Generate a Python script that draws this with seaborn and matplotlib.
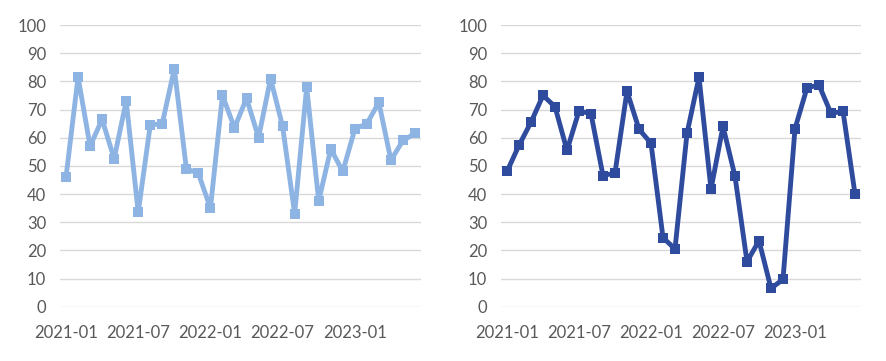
import pandas as pd
import matplotlib
matplotlib.use("Agg")
import matplotlib.pyplot as plt
import seaborn as sns

# monthly categories 2021-01 .. 2023-06
months = [f"{y}-{m:02d}" for y in (2021, 2022, 2023) for m in range(1, 13)][:30]
tick_labels = ["2021-01", "2021-07", "2022-01", "2022-07", "2023-01"]

left_values = [46, 81.5, 57, 66.5, 52.5, 73, 33.5, 64.5, 65, 84.5,
               49, 47.3, 35, 75, 63.5, 74, 60, 81, 64, 33,
               78, 37.5, 56, 48, 63, 65, 72.5, 52, 59, 61.5]
right_values = [48, 57.3, 65.5, 75, 71, 55.5, 69.5, 68.5, 46.5, 47.5,
                76.5, 63, 58, 24.5, 20.5, 61.5, 81.5, 41.7, 64, 46.3,
                16, 23.4, 6.5, 9.7, 63.2, 77.7, 78.7, 68.6, 69.4, 40]

left_color = "#8EB4E3"
right_color = "#2F4B9E"

sns.set_style("white")
plt.rcParams["font.family"] = ["Lato", "DejaVu Sans"]

fig = plt.figure(figsize=(8.86, 3.61), dpi=100)
ax1 = fig.add_axes([60 / 886, 1 - 306.7 / 361, 361 / 886, (306.7 - 25) / 361])
ax2 = fig.add_axes([501 / 886, 1 - 306.7 / 361, 360 / 886, (306.7 - 25) / 361])

for ax, vals, col in [(ax1, left_values, left_color), (ax2, right_values, right_color)]:
    df = pd.DataFrame({"month": months, "value": vals})
    sns.lineplot(data=df, x="month", y="value", ax=ax, color=col, linewidth=3.5,
                 marker="s", markersize=6.8, markeredgewidth=0, sort=False)
    ax.set_ylim(0, 100)
    ax.set_xlim(-0.5, len(months) - 0.5)
    ax.set_yticks(range(0, 101, 10))
    ax.set_xticks([months.index(t) for t in tick_labels])
    ax.set_xticklabels(tick_labels)
    ax.yaxis.grid(True, color="#D9D9D9", linewidth=1)
    ax.xaxis.grid(False)
    ax.set_axisbelow(True)
    for s in ax.spines.values():
        s.set_visible(False)
    ax.tick_params(axis="y", length=0, pad=10, labelsize=12, labelcolor="#595959")
    ax.tick_params(axis="x", length=0, pad=13, labelsize=12, labelcolor="#595959")
    ax.set_xlabel("")
    ax.set_ylabel("")

fig.savefig("out.png", dpi=100)
